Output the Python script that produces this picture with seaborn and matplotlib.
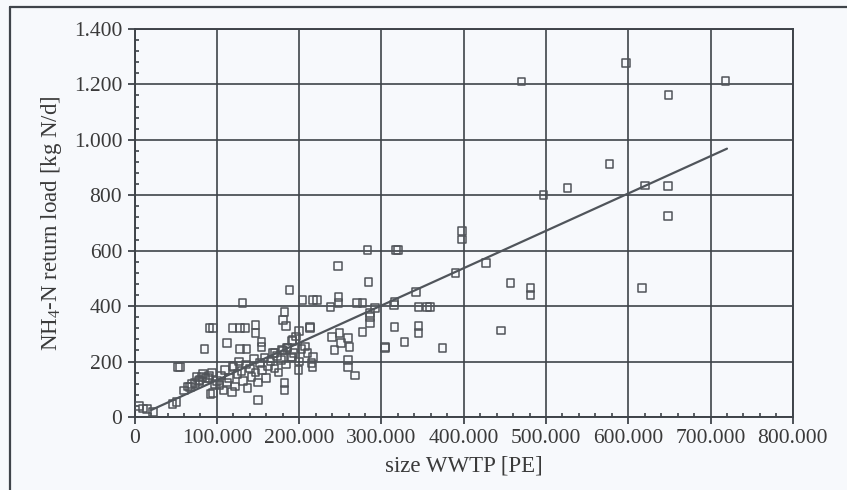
import matplotlib
matplotlib.use("Agg")
import matplotlib.pyplot as plt
from matplotlib.lines import Line2D
from matplotlib.ticker import FixedLocator, MultipleLocator, FuncFormatter
import seaborn as sns
import pandas as pd

# Plant size [PE] and NH4-N return load [kg N/d]
size_pe = [
    5000, 10000, 15000, 22000, 46000, 51000, 53000, 55000,
    60000, 65000, 67000, 70000, 73000, 75000, 78000, 79000, 82000, 83000, 85000, 86000,
    89000, 90000, 91000, 92000, 94000, 95000, 95000, 98000, 100000, 103000, 105000,
    108000, 110000, 112000, 112000, 115000, 118000, 119000, 119000, 120000, 122000,
    125000, 127000, 128000, 128000, 130000, 131000, 132000, 134000, 135000, 136000,
    137000, 140000, 142000, 145000, 147000, 147000, 147000, 150000, 150000, 152000,
    154000, 154000, 155000, 158000, 160000, 162000, 165000, 168000, 170000, 170000,
    173000, 175000, 178000, 179000, 180000, 180000, 182000, 182000, 182000, 184000,
    184000, 185000, 186000, 188000, 190000, 191000, 191000, 192000, 193000, 196000,
    199000, 200000, 200000, 203000, 204000, 207000, 210000, 213000, 213000, 215000,
    216000, 217000, 217000, 222000, 238000, 240000, 243000, 247000, 248000, 248000,
    249000, 251000, 259000, 259000, 259000, 261000, 268000, 270000, 277000, 277000,
    283000, 284000, 286000, 286000, 286000, 292000, 304000, 304000, 315000, 316000,
    316000, 318000, 320000, 328000, 342000, 345000, 345000, 345000, 355000, 359000,
    374000, 390000, 398000, 398000, 427000, 445000, 457000, 470000, 481000, 481000,
    497000, 526000, 577000, 597000, 617000, 620000, 648000, 648000, 649000, 718000,
]
return_load = [
    40, 30, 28, 18, 47, 54, 181, 180,
    95, 110, 108, 120, 123, 144, 130, 134, 144, 155, 245, 140,
    141, 150, 321, 83, 160, 87, 321, 120, 130, 115, 150,
    95, 170, 267, 125, 140, 90, 321, 185, 180, 110,
    155, 200, 321, 245, 165, 411, 130, 321, 190, 245,
    105, 175, 145, 210, 332, 303, 160, 125, 61, 195,
    253, 271, 170, 215, 140, 185, 200, 230, 175, 231,
    220, 160, 205, 242, 350, 240, 379, 123, 97, 329,
    190, 249, 250, 458, 215, 217, 275, 278, 230, 290,
    170, 200, 310, 245, 422, 255, 230, 321, 325, 195,
    180, 422, 217, 422, 397, 289, 242, 545, 433, 411,
    303, 267, 285, 206, 181, 253, 150, 411, 307, 411,
    603, 487, 339, 361, 375, 393, 253, 249, 404, 415,
    325, 603, 603, 271, 451, 397, 328, 303, 397, 397,
    249, 520, 670, 640, 556, 312, 484, 1210, 466, 440,
    801, 826, 913, 1277, 466, 835, 834, 725, 1162, 1212,
]

# Fitted regression line (end points)
fit_x = [20000, 720000]
fit_y = [25, 968]

x_ticks = [0, 100000, 200000, 300000, 400000, 500000, 600000, 700000, 800000]
y_ticks = [0, 200, 400, 600, 800, 1000, 1200, 1400]

df = pd.DataFrame({"size": size_pe, "load": return_load})
fit = pd.DataFrame({"size": fit_x, "load": fit_y})

sns.set_theme(style="white")
plt.rcParams["font.family"] = ["Liberation Serif", "DejaVu Serif"]
plt.rcParams["mathtext.fontset"] = "custom"
plt.rcParams["mathtext.rm"] = "Liberation Serif"
plt.rcParams["mathtext.it"] = "Liberation Serif"

ink = "#3f444a"
paper = "#f7f9fc"
text_col = "#3a3a3a"

fig = plt.figure(figsize=(8.47, 4.90), dpi=100, facecolor=paper)
ax = fig.add_axes([0.159, 0.149, 0.777, 0.792])
ax.set_facecolor(paper)

ax.set_xlim(0, 800000)
ax.set_ylim(0, 1400)

ax.xaxis.set_major_locator(FixedLocator(x_ticks))
ax.yaxis.set_major_locator(FixedLocator(y_ticks))
ax.xaxis.set_minor_locator(MultipleLocator(20000))
ax.yaxis.set_minor_locator(MultipleLocator(40))

def dotted_thousands(v, pos):
    return f"{int(round(v)):,}".replace(",", ".")

ax.xaxis.set_major_formatter(FuncFormatter(dotted_thousands))
ax.yaxis.set_major_formatter(FuncFormatter(dotted_thousands))

ax.grid(True, which="major", color=ink, linewidth=1.2)
ax.set_axisbelow(True)
for side in ["left", "bottom", "top", "right"]:
    ax.spines[side].set_visible(True)
    ax.spines[side].set_color(ink)
    ax.spines[side].set_linewidth(1.4)

ax.tick_params(axis="both", which="major", direction="out", length=5, width=1.3,
               color=ink, labelcolor=text_col, labelsize=15.5, pad=4,
               bottom=True, left=True)
ax.tick_params(axis="both", which="minor", direction="in", length=3, width=1.2,
               color=ink, bottom=True, left=True)

sns.scatterplot(data=df, x="size", y="load", ax=ax, marker="s", s=30,
                facecolor="none", edgecolor="#505459", linewidth=1.1, zorder=3)
sns.lineplot(data=fit, x="size", y="load", ax=ax, color="#50555b",
             linewidth=1.6, zorder=4)

ax.set_xlabel("size WWTP [PE]", fontsize=16.5, color=text_col, labelpad=5)
ax.set_ylabel("NH$_4$-N return load [kg N/d]", fontsize=16.5, color=text_col,
              labelpad=7)

# Frame around the figure (top and left edges)
fig.add_artist(Line2D([10 / 847, 1.0], [1 - 7 / 490, 1 - 7 / 490],
                      transform=fig.transFigure, color=ink, linewidth=1.6))
fig.add_artist(Line2D([10 / 847, 10 / 847], [0.0, 1 - 7 / 490],
                      transform=fig.transFigure, color=ink, linewidth=1.6))

fig.savefig("out.png", dpi=100, facecolor=paper)
